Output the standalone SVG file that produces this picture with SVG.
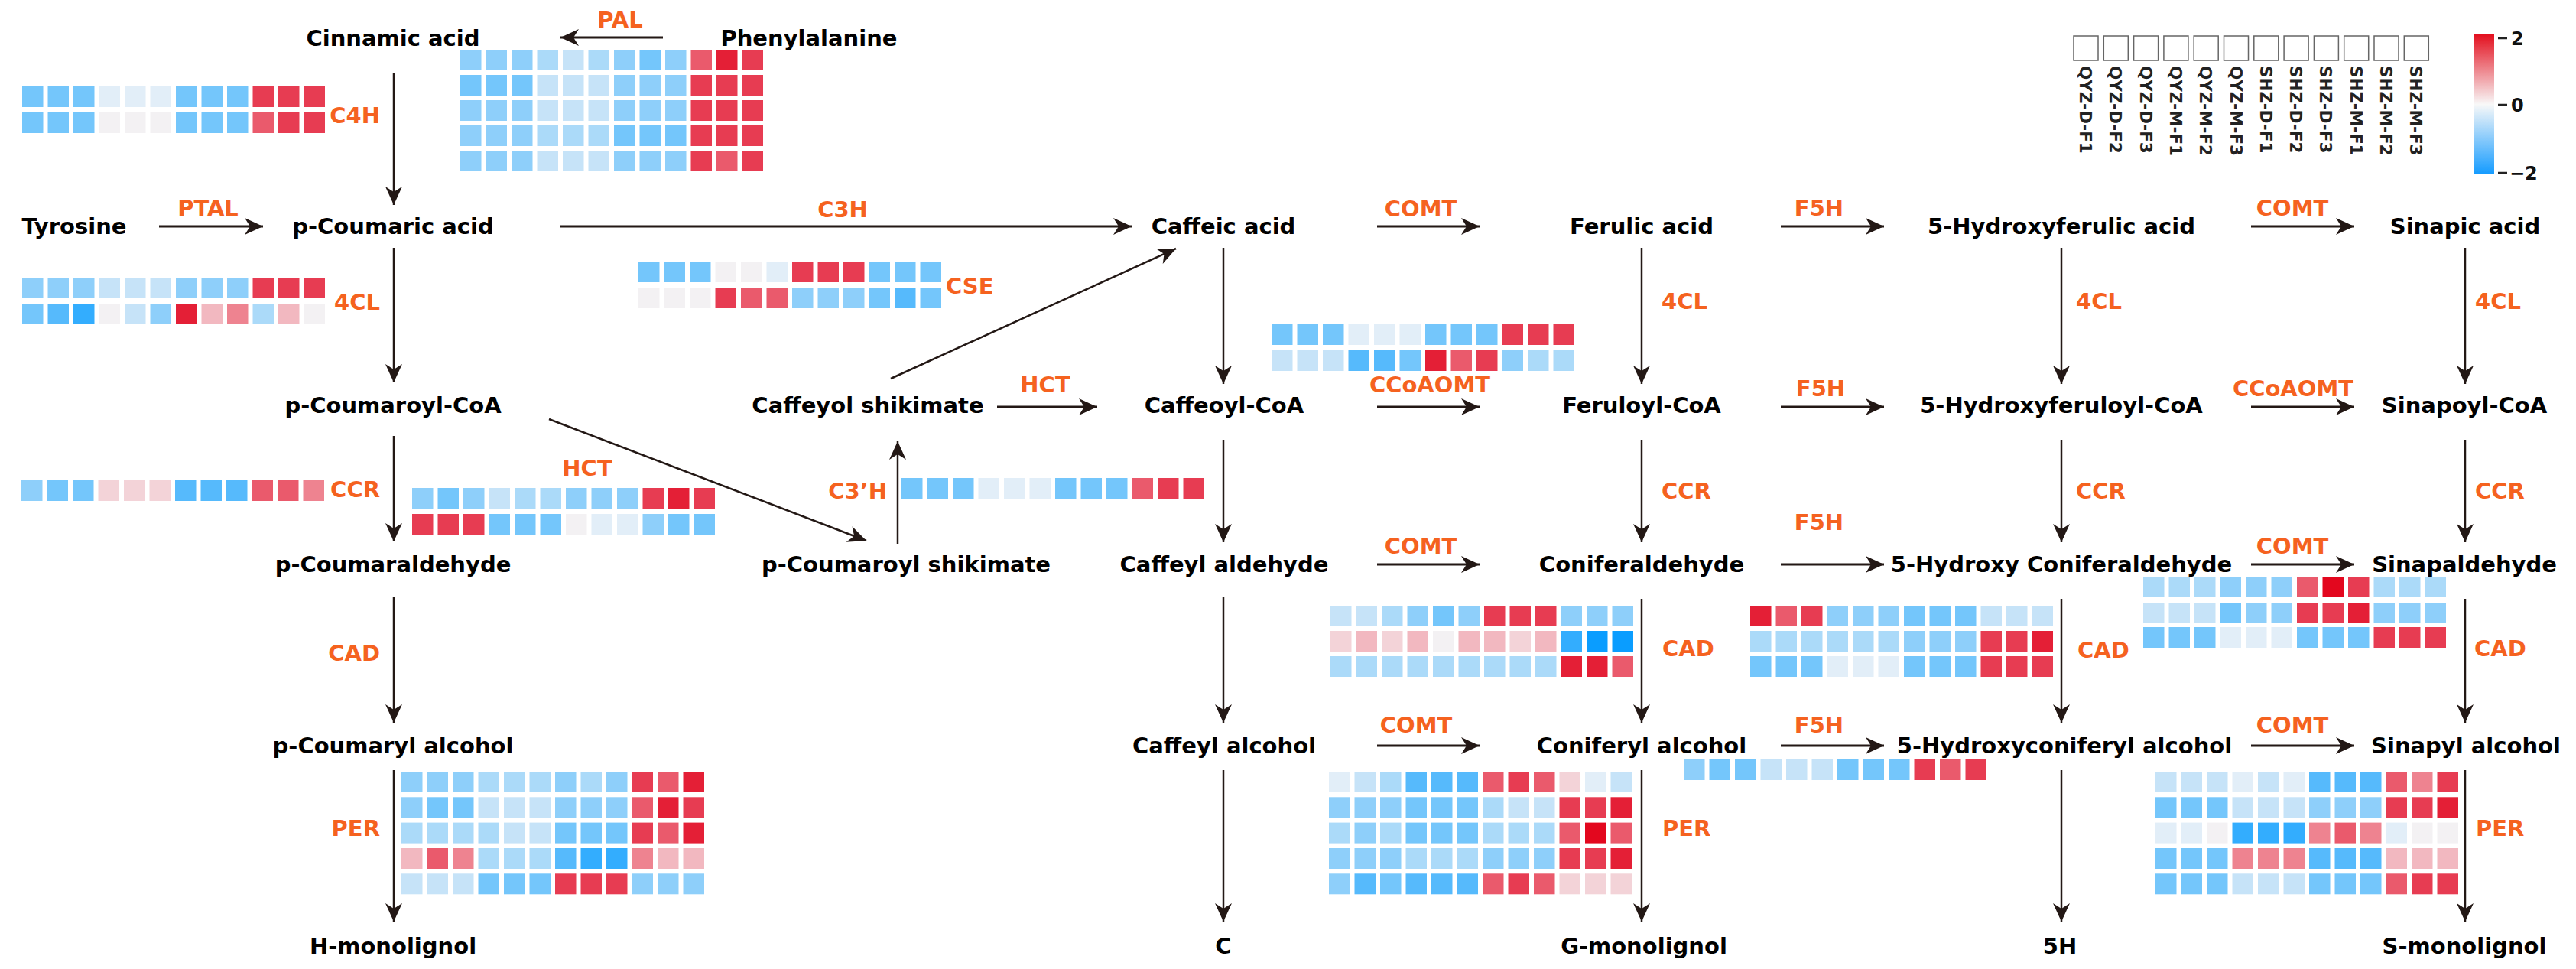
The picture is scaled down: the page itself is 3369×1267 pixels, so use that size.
<svg xmlns="http://www.w3.org/2000/svg" width="3369" height="1267" viewBox="0 0 3369 1267">
<defs>
<style>
.t{font-family:"DejaVu Sans",sans-serif;font-weight:bold;font-size:29px;fill:#000;text-anchor:middle}
.e{font-family:"DejaVu Sans",sans-serif;font-weight:bold;font-size:29px;fill:#F5621F;text-anchor:middle}
.e.s{text-anchor:start}
.e.r{text-anchor:end}
.lg{font-family:"DejaVu Sans",sans-serif;font-weight:bold;font-size:21.5px;fill:#222}
.tk{font-family:"DejaVu Sans",sans-serif;font-weight:bold;font-size:24px;fill:#111}
.hm rect{width:27.5px;height:27px}
.r4{fill:#E3071E}.r3{fill:#E41F36}.r2{fill:#E73C52}.r1{fill:#EA5A6C}.r0{fill:#EE8390}
.p2{fill:#F2B8C0}.p1{fill:#F3D3D8}.w{fill:#F3F1F3}
.b0{fill:#E2EEF8}.b1{fill:#C6E3F8}.b2{fill:#ABDAF9}.b3{fill:#8ECFFA}.b4{fill:#74C6FB}.b5{fill:#56BAFC}.b6{fill:#33ADFE}.b7{fill:#0A9DFF}
.h line{stroke-width:3}
.v line{stroke-width:2.5}
</style>
<marker id="ah" markerUnits="userSpaceOnUse" markerWidth="26" markerHeight="26" refX="24" refY="12" orient="auto"><path d="M0,1 L24,12 L0,23 L7,12 Z" fill="#231815"/></marker>
<linearGradient id="cb" x1="0" y1="0" x2="0" y2="1"><stop offset="0" stop-color="#E3101F"/><stop offset="0.5" stop-color="#F8F8F8"/><stop offset="1" stop-color="#149BFF"/></linearGradient>
</defs>
<rect width="3369" height="1267" fill="#fff"/>

<g id="connectors" fill="none" stroke="#231815" marker-end="url(#ah)">
<g class="h">
<line x1="867" y1="49" x2="733" y2="49"/>
<line x1="208" y1="296" x2="344" y2="296"/>
<line x1="732" y1="296" x2="1480" y2="296"/>
<line x1="1801" y1="296" x2="1935" y2="296"/>
<line x1="2329" y1="296" x2="2464" y2="296"/>
<line x1="2944" y1="296" x2="3079" y2="296"/>
<line x1="1304" y1="532" x2="1435" y2="532"/>
<line x1="1801" y1="532" x2="1935" y2="532"/>
<line x1="2329" y1="532" x2="2464" y2="532"/>
<line x1="2944" y1="532" x2="3079" y2="532"/>
<line x1="1801" y1="738" x2="1935" y2="738"/>
<line x1="2329" y1="738" x2="2464" y2="738"/>
<line x1="2944" y1="738" x2="3079" y2="738"/>
<line x1="1801" y1="975" x2="1935" y2="975"/>
<line x1="2329" y1="975" x2="2464" y2="975"/>
<line x1="2944" y1="975" x2="3079" y2="975"/>
</g>
<g class="v">
<line x1="515" y1="95" x2="515" y2="268"/>
<line x1="515" y1="324" x2="515" y2="500"/>
<line x1="515" y1="570" x2="515" y2="708"/>
<line x1="515" y1="780" x2="515" y2="945"/>
<line x1="515" y1="1007" x2="515" y2="1205"/>
<line x1="1174" y1="711" x2="1174" y2="577"/>
<line x1="1600" y1="324" x2="1600" y2="502"/>
<line x1="1600" y1="575" x2="1600" y2="709"/>
<line x1="1600" y1="780" x2="1600" y2="945"/>
<line x1="1600" y1="1007" x2="1600" y2="1205"/>
<line x1="2147" y1="324" x2="2147" y2="502"/>
<line x1="2147" y1="575" x2="2147" y2="709"/>
<line x1="2147" y1="783" x2="2147" y2="945"/>
<line x1="2147" y1="1007" x2="2147" y2="1205"/>
<line x1="2696" y1="324" x2="2696" y2="502"/>
<line x1="2696" y1="575" x2="2696" y2="709"/>
<line x1="2696" y1="783" x2="2696" y2="945"/>
<line x1="2696" y1="1007" x2="2696" y2="1205"/>
<line x1="3224" y1="324" x2="3224" y2="502"/>
<line x1="3224" y1="575" x2="3224" y2="709"/>
<line x1="3224" y1="783" x2="3224" y2="945"/>
<line x1="3224" y1="1007" x2="3224" y2="1205"/>
<line x1="718" y1="548" x2="1133" y2="707"/>
<line x1="1165" y1="495" x2="1538" y2="325"/>
</g>
</g>

<g id="nodes">
<g id="n-cinnamic"><text class="t" x="514" y="60">Cinnamic acid</text></g>
<g id="n-phenylalanine"><text class="t" x="1058" y="60">Phenylalanine</text></g>
<g id="n-tyrosine"><text class="t" x="97" y="306">Tyrosine</text></g>
<g id="n-pcoumaric"><text class="t" x="514" y="306">p-Coumaric acid</text></g>
<g id="n-caffeic"><text class="t" x="1600" y="306">Caffeic acid</text></g>
<g id="n-ferulic"><text class="t" x="2147" y="306">Ferulic acid</text></g>
<g id="n-5hferulic"><text class="t" x="2696" y="306">5-Hydroxyferulic acid</text></g>
<g id="n-sinapic"><text class="t" x="3224" y="306">Sinapic acid</text></g>
<g id="n-pcoumaroylcoa"><text class="t" x="514" y="540">p-Coumaroyl-CoA</text></g>
<g id="n-caffeyolshik"><text class="t" x="1135" y="540">Caffeyol shikimate</text></g>
<g id="n-caffeoylcoa"><text class="t" x="1601" y="540">Caffeoyl-CoA</text></g>
<g id="n-feruloylcoa"><text class="t" x="2147" y="540">Feruloyl-CoA</text></g>
<g id="n-5hferuloylcoa"><text class="t" x="2696" y="540">5-Hydroxyferuloyl-CoA</text></g>
<g id="n-sinapoylcoa"><text class="t" x="3223" y="540">Sinapoyl-CoA</text></g>
<g id="n-pcoumaraldehyde"><text class="t" x="514" y="748">p-Coumaraldehyde</text></g>
<g id="n-pcoumaroylshik"><text class="t" x="1185" y="748">p-Coumaroyl shikimate</text></g>
<g id="n-caffeylald"><text class="t" x="1601" y="748">Caffeyl aldehyde</text></g>
<g id="n-coniferald"><text class="t" x="2147" y="748">Coniferaldehyde</text></g>
<g id="n-5hconiferald"><text class="t" x="2696" y="748">5-Hydroxy Coniferaldehyde</text></g>
<g id="n-sinapald"><text class="t" x="3223" y="748">Sinapaldehyde</text></g>
<g id="n-pcoumarylalc"><text class="t" x="514" y="985">p-Coumaryl alcohol</text></g>
<g id="n-caffeylalc"><text class="t" x="1601" y="985">Caffeyl alcohol</text></g>
<g id="n-coniferylalc"><text class="t" x="2147" y="985">Coniferyl alcohol</text></g>
<g id="n-5hconiferylalc"><text class="t" x="2700" y="985">5-Hydroxyconiferyl alcohol</text></g>
<g id="n-sinapylalc"><text class="t" x="3225" y="985">Sinapyl alcohol</text></g>
<g id="n-h"><text class="t" x="514" y="1247">H-monolignol</text></g>
<g id="n-c"><text class="t" x="1600" y="1247">C</text></g>
<g id="n-g"><text class="t" x="2150" y="1247">G-monolignol</text></g>
<g id="n-5h"><text class="t" x="2694" y="1247">5H</text></g>
<g id="n-s"><text class="t" x="3223" y="1247">S-monolignol</text></g>
</g>

<g id="enzymes">
<text class="e" x="811" y="36">PAL</text>
<text class="e r" x="497" y="161">C4H</text>
<text class="e" x="272" y="282">PTAL</text>
<text class="e" x="1102" y="284">C3H</text>
<text class="e" x="1858" y="283">COMT</text>
<text class="e" x="2379" y="282">F5H</text>
<text class="e" x="2998" y="282">COMT</text>
<text class="e r" x="497" y="405">4CL</text>
<text class="e s" x="1237" y="384">CSE</text>
<text class="e s" x="2173" y="404">4CL</text>
<text class="e s" x="2715" y="404">4CL</text>
<text class="e s" x="3237" y="404">4CL</text>
<text class="e" x="1367" y="513">HCT</text>
<text class="e" x="1870" y="513">CCoAOMT</text>
<text class="e" x="2381" y="518">F5H</text>
<text class="e" x="2999" y="518">CCoAOMT</text>
<text class="e" x="768" y="622">HCT</text>
<text class="e r" x="497" y="650">CCR</text>
<text class="e r" x="1160" y="652">C3’H</text>
<text class="e s" x="2173" y="652">CCR</text>
<text class="e s" x="2715" y="652">CCR</text>
<text class="e s" x="3237" y="652">CCR</text>
<text class="e" x="2379" y="693">F5H</text>
<text class="e" x="1858" y="724">COMT</text>
<text class="e" x="2998" y="724">COMT</text>
<text class="e r" x="497" y="864">CAD</text>
<text class="e s" x="2174" y="858">CAD</text>
<text class="e s" x="2717" y="860">CAD</text>
<text class="e s" x="3236" y="858">CAD</text>
<text class="e" x="1852" y="958">COMT</text>
<text class="e" x="2379" y="958">F5H</text>
<text class="e" x="2998" y="958">COMT</text>
<text class="e r" x="497" y="1093">PER</text>
<text class="e s" x="2174" y="1093">PER</text>
<text class="e s" x="3238" y="1093">PER</text>
</g>

<g id="heatmaps" class="hm">
<g id="hm-pal">
<g transform="translate(602,65)"><rect class="b3"/><rect x="33.5" class="b3"/><rect x="67" class="b3"/><rect x="100.5" class="b2"/><rect x="134" class="b1"/><rect x="167.5" class="b2"/><rect x="201" class="b3"/><rect x="234.5" class="b4"/><rect x="268" class="b3"/><rect x="301.5" class="r1"/><rect x="335" class="r3"/><rect x="368.5" class="r2"/></g>
<g transform="translate(602,98)"><rect class="b4"/><rect x="33.5" class="b4"/><rect x="67" class="b4"/><rect x="100.5" class="b1"/><rect x="134" class="b1"/><rect x="167.5" class="b1"/><rect x="201" class="b3"/><rect x="234.5" class="b3"/><rect x="268" class="b3"/><rect x="301.5" class="r2"/><rect x="335" class="r2"/><rect x="368.5" class="r2"/></g>
<g transform="translate(602,131)"><rect class="b3"/><rect x="33.5" class="b3"/><rect x="67" class="b3"/><rect x="100.5" class="b1"/><rect x="134" class="b1"/><rect x="167.5" class="b1"/><rect x="201" class="b3"/><rect x="234.5" class="b3"/><rect x="268" class="b3"/><rect x="301.5" class="r2"/><rect x="335" class="r2"/><rect x="368.5" class="r2"/></g>
<g transform="translate(602,164)"><rect class="b3"/><rect x="33.5" class="b3"/><rect x="67" class="b3"/><rect x="100.5" class="b2"/><rect x="134" class="b2"/><rect x="167.5" class="b2"/><rect x="201" class="b4"/><rect x="234.5" class="b4"/><rect x="268" class="b4"/><rect x="301.5" class="r2"/><rect x="335" class="r2"/><rect x="368.5" class="r2"/></g>
<g transform="translate(602,197)"><rect class="b3"/><rect x="33.5" class="b3"/><rect x="67" class="b3"/><rect x="100.5" class="b1"/><rect x="134" class="b1"/><rect x="167.5" class="b1"/><rect x="201" class="b3"/><rect x="234.5" class="b3"/><rect x="268" class="b3"/><rect x="301.5" class="r2"/><rect x="335" class="r1"/><rect x="368.5" class="r2"/></g>
</g>
<g id="hm-c4h">
<g transform="translate(29,113)"><rect class="b4"/><rect x="33.5" class="b4"/><rect x="67" class="b4"/><rect x="100.5" class="b0"/><rect x="134" class="b0"/><rect x="167.5" class="b0"/><rect x="201" class="b4"/><rect x="234.5" class="b4"/><rect x="268" class="b4"/><rect x="301.5" class="r2"/><rect x="335" class="r2"/><rect x="368.5" class="r2"/></g>
<g transform="translate(29,147)"><rect class="b4"/><rect x="33.5" class="b4"/><rect x="67" class="b4"/><rect x="100.5" class="w"/><rect x="134" class="w"/><rect x="167.5" class="w"/><rect x="201" class="b4"/><rect x="234.5" class="b4"/><rect x="268" class="b4"/><rect x="301.5" class="r1"/><rect x="335" class="r2"/><rect x="368.5" class="r2"/></g>
</g>
<g id="hm-4cl-a">
<g transform="translate(29,363)"><rect class="b3"/><rect x="33.5" class="b3"/><rect x="67" class="b3"/><rect x="100.5" class="b1"/><rect x="134" class="b1"/><rect x="167.5" class="b1"/><rect x="201" class="b3"/><rect x="234.5" class="b3"/><rect x="268" class="b3"/><rect x="301.5" class="r2"/><rect x="335" class="r2"/><rect x="368.5" class="r2"/></g>
<g transform="translate(29,397)"><rect class="b4"/><rect x="33.5" class="b5"/><rect x="67" class="b6"/><rect x="100.5" class="w"/><rect x="134" class="b1"/><rect x="167.5" class="b3"/><rect x="201" class="r3"/><rect x="234.5" class="p2"/><rect x="268" class="r0"/><rect x="301.5" class="b2"/><rect x="335" class="p2"/><rect x="368.5" class="w"/></g>
</g>
<g id="hm-cse">
<g transform="translate(835,342)"><rect class="b4"/><rect x="33.5" class="b4"/><rect x="67" class="b4"/><rect x="100.5" class="w"/><rect x="134" class="w"/><rect x="167.5" class="b0"/><rect x="201" class="r2"/><rect x="234.5" class="r2"/><rect x="268" class="r2"/><rect x="301.5" class="b4"/><rect x="335" class="b4"/><rect x="368.5" class="b4"/></g>
<g transform="translate(835,376)"><rect class="w"/><rect x="33.5" class="w"/><rect x="67" class="w"/><rect x="100.5" class="r2"/><rect x="134" class="r1"/><rect x="167.5" class="r1"/><rect x="201" class="b3"/><rect x="234.5" class="b3"/><rect x="268" class="b3"/><rect x="301.5" class="b4"/><rect x="335" class="b5"/><rect x="368.5" class="b4"/></g>
</g>
<g id="hm-ccr-a">
<g transform="translate(28,628)"><rect class="b3"/><rect x="33.5" class="b4"/><rect x="67" class="b4"/><rect x="100.5" class="p1"/><rect x="134" class="p1"/><rect x="167.5" class="p1"/><rect x="201" class="b5"/><rect x="234.5" class="b5"/><rect x="268" class="b5"/><rect x="301.5" class="r1"/><rect x="335" class="r1"/><rect x="368.5" class="r0"/></g>
</g>
<g id="hm-hct">
<g transform="translate(539,638)"><rect class="b3"/><rect x="33.5" class="b4"/><rect x="67" class="b3"/><rect x="100.5" class="b1"/><rect x="134" class="b2"/><rect x="167.5" class="b2"/><rect x="201" class="b3"/><rect x="234.5" class="b3"/><rect x="268" class="b3"/><rect x="301.5" class="r2"/><rect x="335" class="r3"/><rect x="368.5" class="r2"/></g>
<g transform="translate(539,672)"><rect class="r2"/><rect x="33.5" class="r2"/><rect x="67" class="r2"/><rect x="100.5" class="b4"/><rect x="134" class="b4"/><rect x="167.5" class="b4"/><rect x="201" class="w"/><rect x="234.5" class="b0"/><rect x="268" class="b0"/><rect x="301.5" class="b3"/><rect x="335" class="b4"/><rect x="368.5" class="b4"/></g>
</g>
<g id="hm-c3h">
<g transform="translate(1179,625)"><rect class="b4"/><rect x="33.5" class="b4"/><rect x="67" class="b4"/><rect x="100.5" class="b0"/><rect x="134" class="b0"/><rect x="167.5" class="b0"/><rect x="201" class="b4"/><rect x="234.5" class="b4"/><rect x="268" class="b4"/><rect x="301.5" class="r1"/><rect x="335" class="r2"/><rect x="368.5" class="r2"/></g>
</g>
<g id="hm-4cl-c">
<g transform="translate(1663,424)"><rect class="b4"/><rect x="33.5" class="b4"/><rect x="67" class="b4"/><rect x="100.5" class="b0"/><rect x="134" class="b0"/><rect x="167.5" class="b0"/><rect x="201" class="b4"/><rect x="234.5" class="b4"/><rect x="268" class="b4"/><rect x="301.5" class="r2"/><rect x="335" class="r2"/><rect x="368.5" class="r2"/></g>
<g transform="translate(1663,458)"><rect class="b1"/><rect x="33.5" class="b1"/><rect x="67" class="b1"/><rect x="100.5" class="b5"/><rect x="134" class="b5"/><rect x="167.5" class="b4"/><rect x="201" class="r3"/><rect x="234.5" class="r1"/><rect x="268" class="r2"/><rect x="301.5" class="b3"/><rect x="335" class="b2"/><rect x="368.5" class="b2"/></g>
</g>
<g id="hm-cad-c">
<g transform="translate(1740,792)"><rect class="b1"/><rect x="33.5" class="b1"/><rect x="67" class="b2"/><rect x="100.5" class="b3"/><rect x="134" class="b4"/><rect x="167.5" class="b3"/><rect x="201" class="r2"/><rect x="234.5" class="r2"/><rect x="268" class="r2"/><rect x="301.5" class="b3"/><rect x="335" class="b3"/><rect x="368.5" class="b3"/></g>
<g transform="translate(1740,825)"><rect class="p1"/><rect x="33.5" class="p2"/><rect x="67" class="p1"/><rect x="100.5" class="p2"/><rect x="134" class="w"/><rect x="167.5" class="p2"/><rect x="201" class="p2"/><rect x="234.5" class="p1"/><rect x="268" class="p2"/><rect x="301.5" class="b6"/><rect x="335" class="b7"/><rect x="368.5" class="b7"/></g>
<g transform="translate(1740,858)"><rect class="b2"/><rect x="33.5" class="b2"/><rect x="67" class="b2"/><rect x="100.5" class="b2"/><rect x="134" class="b2"/><rect x="167.5" class="b2"/><rect x="201" class="b2"/><rect x="234.5" class="b2"/><rect x="268" class="b2"/><rect x="301.5" class="r3"/><rect x="335" class="r3"/><rect x="368.5" class="r1"/></g>
</g>
<g id="hm-cad-d">
<g transform="translate(2289,792)"><rect class="r3"/><rect x="33.5" class="r1"/><rect x="67" class="r2"/><rect x="100.5" class="b3"/><rect x="134" class="b3"/><rect x="167.5" class="b3"/><rect x="201" class="b4"/><rect x="234.5" class="b4"/><rect x="268" class="b4"/><rect x="301.5" class="b1"/><rect x="335" class="b1"/><rect x="368.5" class="b1"/></g>
<g transform="translate(2289,825)"><rect class="b2"/><rect x="33.5" class="b2"/><rect x="67" class="b2"/><rect x="100.5" class="b2"/><rect x="134" class="b2"/><rect x="167.5" class="b2"/><rect x="201" class="b3"/><rect x="234.5" class="b3"/><rect x="268" class="b3"/><rect x="301.5" class="r2"/><rect x="335" class="r2"/><rect x="368.5" class="r3"/></g>
<g transform="translate(2289,858)"><rect class="b4"/><rect x="33.5" class="b4"/><rect x="67" class="b4"/><rect x="100.5" class="b0"/><rect x="134" class="b0"/><rect x="167.5" class="b0"/><rect x="201" class="b4"/><rect x="234.5" class="b4"/><rect x="268" class="b4"/><rect x="301.5" class="r2"/><rect x="335" class="r2"/><rect x="368.5" class="r2"/></g>
</g>
<g id="hm-cad-e">
<g transform="translate(2803,754)"><rect class="b2"/><rect x="33.5" class="b2"/><rect x="67" class="b2"/><rect x="100.5" class="b3"/><rect x="134" class="b3"/><rect x="167.5" class="b3"/><rect x="201" class="r1"/><rect x="234.5" class="r4"/><rect x="268" class="r2"/><rect x="301.5" class="b2"/><rect x="335" class="b2"/><rect x="368.5" class="b2"/></g>
<g transform="translate(2803,788)"><rect class="b1"/><rect x="33.5" class="b1"/><rect x="67" class="b1"/><rect x="100.5" class="b4"/><rect x="134" class="b3"/><rect x="167.5" class="b3"/><rect x="201" class="r2"/><rect x="234.5" class="r2"/><rect x="268" class="r3"/><rect x="301.5" class="b3"/><rect x="335" class="b3"/><rect x="368.5" class="b3"/></g>
<g transform="translate(2803,820)"><rect class="b4"/><rect x="33.5" class="b4"/><rect x="67" class="b4"/><rect x="100.5" class="b0"/><rect x="134" class="b0"/><rect x="167.5" class="b0"/><rect x="201" class="b4"/><rect x="234.5" class="b4"/><rect x="268" class="b4"/><rect x="301.5" class="r2"/><rect x="335" class="r2"/><rect x="368.5" class="r2"/></g>
</g>
<g id="hm-per-a">
<g transform="translate(525,1009)"><rect class="b3"/><rect x="33.5" class="b3"/><rect x="67" class="b3"/><rect x="100.5" class="b2"/><rect x="134" class="b2"/><rect x="167.5" class="b2"/><rect x="201" class="b3"/><rect x="234.5" class="b2"/><rect x="268" class="b3"/><rect x="301.5" class="r2"/><rect x="335" class="r1"/><rect x="368.5" class="r3"/></g>
<g transform="translate(525,1042.3)"><rect class="b3"/><rect x="33.5" class="b4"/><rect x="67" class="b4"/><rect x="100.5" class="b1"/><rect x="134" class="b1"/><rect x="167.5" class="b1"/><rect x="201" class="b3"/><rect x="234.5" class="b3"/><rect x="268" class="b3"/><rect x="301.5" class="r1"/><rect x="335" class="r3"/><rect x="368.5" class="r2"/></g>
<g transform="translate(525,1075.6)"><rect class="b2"/><rect x="33.5" class="b2"/><rect x="67" class="b2"/><rect x="100.5" class="b2"/><rect x="134" class="b1"/><rect x="167.5" class="b1"/><rect x="201" class="b4"/><rect x="234.5" class="b4"/><rect x="268" class="b4"/><rect x="301.5" class="r2"/><rect x="335" class="r1"/><rect x="368.5" class="r3"/></g>
<g transform="translate(525,1109)"><rect class="p2"/><rect x="33.5" class="r1"/><rect x="67" class="r0"/><rect x="100.5" class="b2"/><rect x="134" class="b2"/><rect x="167.5" class="b2"/><rect x="201" class="b5"/><rect x="234.5" class="b6"/><rect x="268" class="b6"/><rect x="301.5" class="r0"/><rect x="335" class="p2"/><rect x="368.5" class="p2"/></g>
<g transform="translate(525,1142.3)"><rect class="b1"/><rect x="33.5" class="b1"/><rect x="67" class="b1"/><rect x="100.5" class="b4"/><rect x="134" class="b4"/><rect x="167.5" class="b4"/><rect x="201" class="r2"/><rect x="234.5" class="r2"/><rect x="268" class="r2"/><rect x="301.5" class="b3"/><rect x="335" class="b3"/><rect x="368.5" class="b3"/></g>
</g>
<g id="hm-per-c">
<g transform="translate(1738,1009)"><rect class="b0"/><rect x="33.5" class="b1"/><rect x="67" class="b2"/><rect x="100.5" class="b5"/><rect x="134" class="b5"/><rect x="167.5" class="b5"/><rect x="201" class="r1"/><rect x="234.5" class="r2"/><rect x="268" class="r1"/><rect x="301.5" class="p1"/><rect x="335" class="b0"/><rect x="368.5" class="b1"/></g>
<g transform="translate(1738,1042.3)"><rect class="b3"/><rect x="33.5" class="b3"/><rect x="67" class="b3"/><rect x="100.5" class="b4"/><rect x="134" class="b4"/><rect x="167.5" class="b4"/><rect x="201" class="b2"/><rect x="234.5" class="b1"/><rect x="268" class="b1"/><rect x="301.5" class="r2"/><rect x="335" class="r2"/><rect x="368.5" class="r3"/></g>
<g transform="translate(1738,1075.6)"><rect class="b2"/><rect x="33.5" class="b3"/><rect x="67" class="b2"/><rect x="100.5" class="b4"/><rect x="134" class="b4"/><rect x="167.5" class="b4"/><rect x="201" class="b2"/><rect x="234.5" class="b2"/><rect x="268" class="b2"/><rect x="301.5" class="r1"/><rect x="335" class="r4"/><rect x="368.5" class="r1"/></g>
<g transform="translate(1738,1109)"><rect class="b3"/><rect x="33.5" class="b3"/><rect x="67" class="b3"/><rect x="100.5" class="b2"/><rect x="134" class="b2"/><rect x="167.5" class="b2"/><rect x="201" class="b3"/><rect x="234.5" class="b3"/><rect x="268" class="b3"/><rect x="301.5" class="r2"/><rect x="335" class="r2"/><rect x="368.5" class="r3"/></g>
<g transform="translate(1738,1142.3)"><rect class="b3"/><rect x="33.5" class="b5"/><rect x="67" class="b4"/><rect x="100.5" class="b5"/><rect x="134" class="b5"/><rect x="167.5" class="b5"/><rect x="201" class="r1"/><rect x="234.5" class="r2"/><rect x="268" class="r1"/><rect x="301.5" class="p1"/><rect x="335" class="p1"/><rect x="368.5" class="p1"/></g>
</g>
<g id="hm-f5h">
<g transform="translate(2202,993)"><rect class="b3"/><rect x="33.5" class="b4"/><rect x="67" class="b4"/><rect x="100.5" class="b1"/><rect x="134" class="b1"/><rect x="167.5" class="b1"/><rect x="201" class="b4"/><rect x="234.5" class="b4"/><rect x="268" class="b4"/><rect x="301.5" class="r2"/><rect x="335" class="r1"/><rect x="368.5" class="r2"/></g>
</g>
<g id="hm-per-f">
<g transform="translate(2819,1009)"><rect class="b1"/><rect x="33.5" class="b1"/><rect x="67" class="b1"/><rect x="100.5" class="b0"/><rect x="134" class="b1"/><rect x="167.5" class="b0"/><rect x="201" class="b5"/><rect x="234.5" class="b5"/><rect x="268" class="b5"/><rect x="301.5" class="r1"/><rect x="335" class="r0"/><rect x="368.5" class="r2"/></g>
<g transform="translate(2819,1042.3)"><rect class="b4"/><rect x="33.5" class="b4"/><rect x="67" class="b4"/><rect x="100.5" class="b1"/><rect x="134" class="b1"/><rect x="167.5" class="b1"/><rect x="201" class="b3"/><rect x="234.5" class="b3"/><rect x="268" class="b3"/><rect x="301.5" class="r2"/><rect x="335" class="r2"/><rect x="368.5" class="r3"/></g>
<g transform="translate(2819,1075.6)"><rect class="b0"/><rect x="33.5" class="b0"/><rect x="67" class="w"/><rect x="100.5" class="b6"/><rect x="134" class="b6"/><rect x="167.5" class="b6"/><rect x="201" class="r0"/><rect x="234.5" class="r1"/><rect x="268" class="r0"/><rect x="301.5" class="b0"/><rect x="335" class="w"/><rect x="368.5" class="w"/></g>
<g transform="translate(2819,1109)"><rect class="b4"/><rect x="33.5" class="b4"/><rect x="67" class="b4"/><rect x="100.5" class="r0"/><rect x="134" class="r0"/><rect x="167.5" class="r0"/><rect x="201" class="b5"/><rect x="234.5" class="b5"/><rect x="268" class="b5"/><rect x="301.5" class="p2"/><rect x="335" class="p2"/><rect x="368.5" class="p2"/></g>
<g transform="translate(2819,1142.3)"><rect class="b4"/><rect x="33.5" class="b4"/><rect x="67" class="b4"/><rect x="100.5" class="b1"/><rect x="134" class="b1"/><rect x="167.5" class="b1"/><rect x="201" class="b4"/><rect x="234.5" class="b4"/><rect x="268" class="b4"/><rect x="301.5" class="r1"/><rect x="335" class="r2"/><rect x="368.5" class="r2"/></g>
</g>
</g>

<g id="legend">
<g fill="#fff" stroke="#666" stroke-width="1.5">
<rect x="2712" y="47" width="32" height="32"/><rect x="2751.3" y="47" width="32" height="32"/><rect x="2790.6" y="47" width="32" height="32"/><rect x="2829.9" y="47" width="32" height="32"/><rect x="2869.2" y="47" width="32" height="32"/><rect x="2908.5" y="47" width="32" height="32"/><rect x="2947.8" y="47" width="32" height="32"/><rect x="2987.1" y="47" width="32" height="32"/><rect x="3026.4" y="47" width="32" height="32"/><rect x="3065.7" y="47" width="32" height="32"/><rect x="3105" y="47" width="32" height="32"/><rect x="3144.3" y="47" width="32" height="32"/>
</g>
<text class="lg" transform="translate(2720,86) rotate(90)">QYZ-D-F1</text>
<text class="lg" transform="translate(2759.3,86) rotate(90)">QYZ-D-F2</text>
<text class="lg" transform="translate(2798.6,86) rotate(90)">QYZ-D-F3</text>
<text class="lg" transform="translate(2837.9,86) rotate(90)">QYZ-M-F1</text>
<text class="lg" transform="translate(2877.2,86) rotate(90)">QYZ-M-F2</text>
<text class="lg" transform="translate(2916.5,86) rotate(90)">QYZ-M-F3</text>
<text class="lg" transform="translate(2955.8,86) rotate(90)">SHZ-D-F1</text>
<text class="lg" transform="translate(2995.1,86) rotate(90)">SHZ-D-F2</text>
<text class="lg" transform="translate(3034.4,86) rotate(90)">SHZ-D-F3</text>
<text class="lg" transform="translate(3073.7,86) rotate(90)">SHZ-M-F1</text>
<text class="lg" transform="translate(3113,86) rotate(90)">SHZ-M-F2</text>
<text class="lg" transform="translate(3152.3,86) rotate(90)">SHZ-M-F3</text>
<rect x="3235" y="45" width="27" height="183" fill="url(#cb)"/>
<g stroke="#222" stroke-width="2.5"><line x1="3267" y1="50" x2="3279" y2="50"/><line x1="3267" y1="137" x2="3279" y2="137"/><line x1="3267" y1="226" x2="3279" y2="226"/></g>
<text class="tk" x="3284" y="59">2</text>
<text class="tk" x="3284" y="146">0</text>
<text class="tk" x="3282" y="235">−2</text>
</g>
</svg>
